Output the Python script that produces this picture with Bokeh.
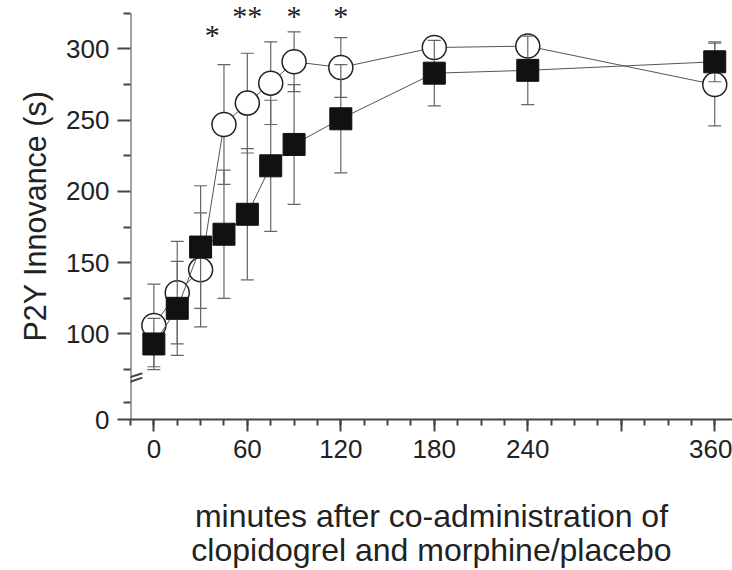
from bokeh.plotting import figure
from bokeh.models import FixedTicker, Range1d, ColumnDataSource, LabelSet, Arrow, Title
from bokeh.embed import file_html
from bokeh.resources import INLINE

# ---- data ----
time = [0, 15, 30, 45, 60, 75, 90, 120, 180, 240, 360]
circle_val = [106, 129, 145, 247, 262, 276, 291, 287, 301, 302, 275]
circle_err = [29, 36, 40, 42, 35, 29, 21, 21, 5, 5, 29]
square_val = [93, 118, 161, 170, 184, 218, 233, 251, 283, 285, 291]
square_err = [18, 33, 43, 45, 46, 46, 42, 38, 23, 24, 14]

star_x = [37.5, 60, 90, 120]
star_y = [311, 324, 324.5, 324]
star_text = ["*", "**", "*", "*"]

x_ticks = [0, 60, 120, 180, 240, 300, 360]
y_ticks = [40, 100, 150, 200, 250, 300]   # 40 = position of the broken-axis zero
y_labels = {40: "0"}
y_axis_top = 325

x_title = "minutes after co-administration of\nclopidogrel and morphine/placebo"
y_title = "P2Y Innovance (s)"

FONT = "Liberation Sans"
INK = "#222222"
AX = "#444444"

p = figure(width=732, height=570,
           x_range=Range1d(-15, 371.4), y_range=Range1d(40, 334),
           output_backend="svg", toolbar_location=None,
           min_border_left=130, min_border_right=0,
           min_border_top=0, min_border_bottom=147)
p.outline_line_color = None
p.xgrid.visible = False
p.ygrid.visible = False
p.background_fill_color = "white"

# ---- axes ----
xa = p.xaxis[0]
xa.ticker = FixedTicker(ticks=x_ticks, minor_ticks=list(range(-15, 372, 15)))
xa.major_label_overrides = {300: ""}
ya = p.yaxis[0]
ya.ticker = FixedTicker(ticks=y_ticks, minor_ticks=[52, 75, 125, 175, 225, 275, 325])
ya.major_label_overrides = y_labels

for ax in (xa, ya):
    ax.axis_line_width = 2
    ax.axis_line_color = AX
    ax.major_tick_line_color = AX
    ax.minor_tick_line_color = AX
    ax.major_tick_line_width = 2
    ax.minor_tick_line_width = 2
    ax.major_tick_in = 0
    ax.minor_tick_in = 0
    ax.major_label_text_font = FONT
    ax.major_label_text_font_size = "26px"
    ax.major_label_text_color = INK
    ax.axis_label_text_font = FONT
    ax.axis_label_text_font_style = "normal"
    ax.axis_label_text_color = INK

xa.major_tick_out = 12
xa.minor_tick_out = 6
xa.major_label_standoff = 8
xa.axis_label = x_title
xa.axis_label_text_font_size = "32px"
xa.axis_label_text_line_height = 0.95
xa.axis_label_standoff = 37

ya.major_tick_out = 13
ya.minor_tick_out = 7
ya.major_label_standoff = 8
ya.axis_line_color = None   # spine drawn below so that it stops at the top tick

# y title as a side title so it can be centred on the drawn axis, not the frame
p.add_layout(Title(text=y_title, align="left", offset=78, standoff=24,
                   text_font=FONT, text_font_size="30.5px", text_font_style="normal",
                   text_color=INK), "left")

p.add_layout(Arrow(end=None, x_start=-15, y_start=40, x_end=-15, y_end=y_axis_top,
                   line_width=2, line_color=AX))

# ---- error bar ends ----
c_lo = [v - e for v, e in zip(circle_val, circle_err)]
c_hi = [v + e for v, e in zip(circle_val, circle_err)]
s_lo = [v - e for v, e in zip(square_val, square_err)]
s_hi = [v + e for v, e in zip(square_val, square_err)]

# ---- circle series ----
p.line(time, circle_val, line_color="#555555", line_width=1)
p.segment(x0=time, y0=c_lo, x1=time, y1=c_hi, line_color="#666666", line_width=1.2)
p.scatter(time + time, c_lo + c_hi, marker="dash", size=13, line_color="#666666", line_width=1.2)
p.scatter(time, circle_val, marker="circle", size=24, fill_color="white",
          line_color="#222222", line_width=1.5)

# ---- square series ----
p.line(time, square_val, line_color="#555555", line_width=1)
p.segment(x0=time, y0=s_lo, x1=time, y1=s_hi, line_color="#666666", line_width=1.2)
p.scatter(time + time, s_lo + s_hi, marker="dash", size=13, line_color="#666666", line_width=1.2)
p.scatter(time, square_val, marker="square", size=22, fill_color="#111111",
          line_color="#111111", line_width=1)

# ---- significance stars ----
stars = ColumnDataSource(dict(x=star_x, y=star_y, t=star_text))
p.add_layout(LabelSet(x="x", y="y", text="t", source=stars, text_align="center",
                      text_baseline="middle", text_font=FONT, text_font_size="30px",
                      text_color=INK, y_offset=-1))

# ---- axis break marks ----
for y0, y1 in ((67.2, 72.4), (63.7, 69.4)):
    p.add_layout(Arrow(end=None, x_start=-22.5, y_start=y0, x_end=-7.4, y_end=y1,
                       line_width=2, line_color=AX))

open("out.html", "w").write(file_html(p, INLINE))
